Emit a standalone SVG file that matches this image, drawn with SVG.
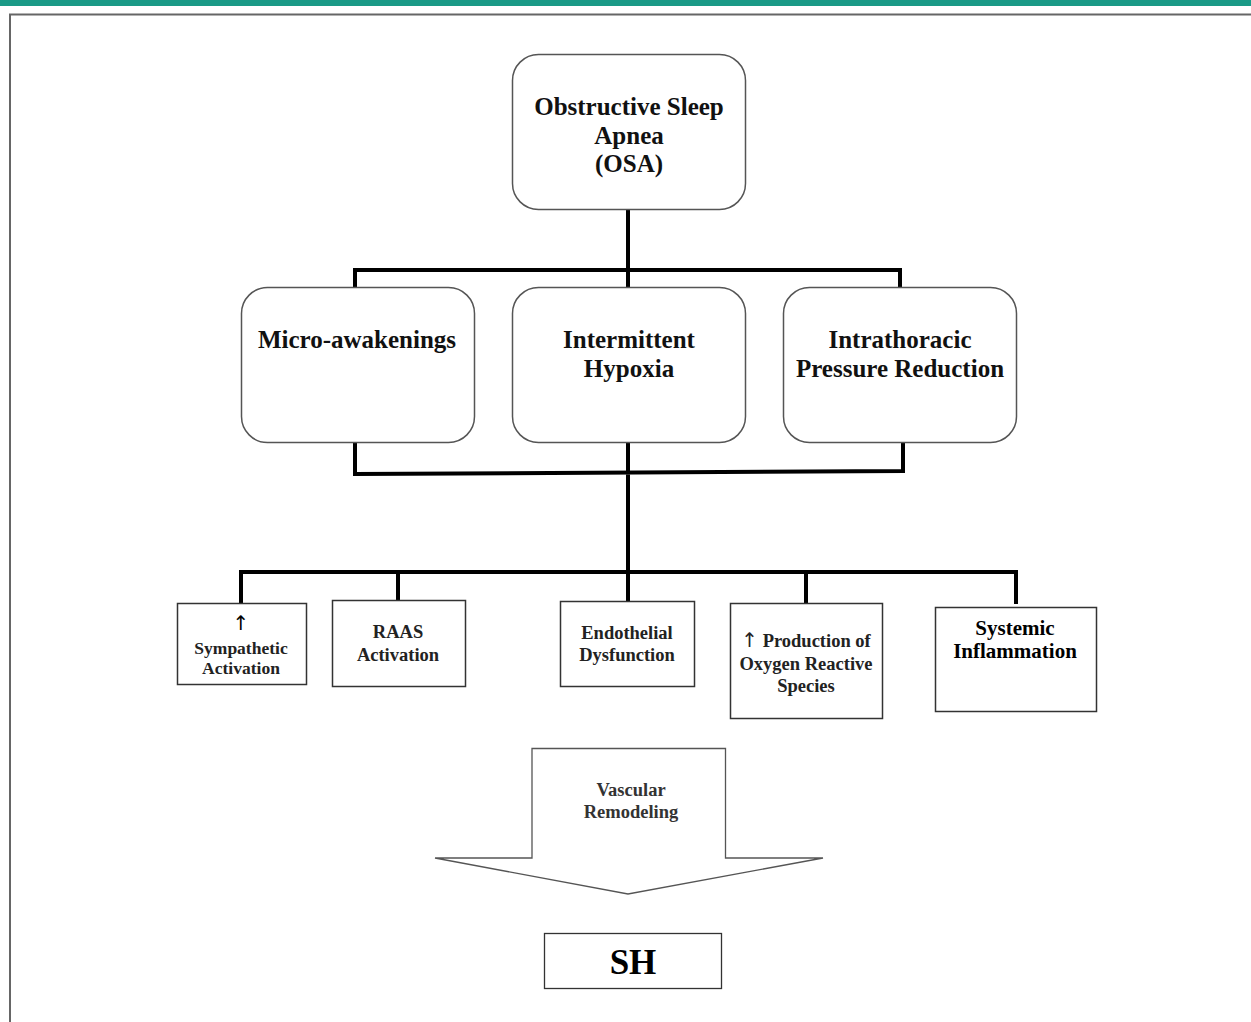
<svg xmlns="http://www.w3.org/2000/svg" width="1251" height="1022" viewBox="0 0 1251 1022">
<style>
.rbox{fill:#fff;stroke:#555;stroke-width:1.5}
.sbox{fill:#fff;stroke:#333;stroke-width:1.5}
.conn{fill:none;stroke:#000;stroke-width:4;stroke-linecap:square}
text{font-family:"Liberation Serif","Times New Roman",serif;font-weight:bold;text-anchor:middle}
.big{font-size:25px;fill:#111}
.sm{font-size:18.5px;fill:#222}
.arr{font-family:"DejaVu Sans",sans-serif;font-weight:normal}
</style>
<rect x="0" y="0" width="1251" height="6" fill="#1a9a87"/>
<path d="M10 1022 V14.5 H1251" fill="none" stroke="#666" stroke-width="2"/>
<g id="connectors">
<path class="conn" d="M628 209 V270 M355 287 V270 H900 V287 M628 270 V287"/>
<path class="conn" d="M355 442 V474 L903 471 V442 M628 442 V572"/>
<path class="conn" d="M241 603 V572 H1016 V602 M398 572 V600 M628 572 V601 M806 572 V602"/>
</g>
<g id="osa">
<rect class="rbox" x="512.5" y="54.5" width="233" height="155" rx="26"/>
<text class="big" x="629" y="115">Obstructive Sleep</text>
<text class="big" x="629" y="144">Apnea</text>
<text class="big" x="629" y="172">(OSA)</text>
</g>
<g id="micro">
<rect class="rbox" x="241.5" y="287.5" width="233" height="155" rx="26"/>
<text class="big" x="357" y="348">Micro-awakenings</text>
</g>
<g id="hypoxia">
<rect class="rbox" x="512.5" y="287.5" width="233" height="155" rx="26"/>
<text class="big" x="629" y="348">Intermittent</text>
<text class="big" x="629" y="377">Hypoxia</text>
</g>
<g id="intrathoracic">
<rect class="rbox" x="783.5" y="287.5" width="233" height="155" rx="26"/>
<text class="big" x="900" y="348">Intrathoracic</text>
<text class="big" x="900" y="377">Pressure Reduction</text>
</g>
<g id="sympathetic">
<rect class="sbox" x="177.5" y="603.5" width="129" height="81"/>
<text class="arr" x="241" y="630" style="font-size:20px;fill:#000">↑</text>
<text x="241" y="654" style="font-size:17.5px;fill:#222">Sympathetic</text>
<text x="241" y="674" style="font-size:17.5px;fill:#222">Activation</text>
</g>
<g id="raas">
<rect class="sbox" x="332.5" y="600.5" width="133" height="86"/>
<text class="sm" x="398" y="638">RAAS</text>
<text class="sm" x="398" y="661">Activation</text>
</g>
<g id="endothelial">
<rect class="sbox" x="560.5" y="601.5" width="134" height="85"/>
<text class="sm" x="627" y="639">Endothelial</text>
<text class="sm" x="627" y="661">Dysfunction</text>
</g>
<g id="ros">
<rect class="sbox" x="730.5" y="603.5" width="152" height="115"/>
<text class="sm" x="806" y="647"><tspan class="arr" style="font-size:20px">↑</tspan> Production of</text>
<text class="sm" x="806" y="670">Oxygen Reactive</text>
<text class="sm" x="806" y="692">Species</text>
</g>
<g id="inflammation">
<rect class="sbox" x="935.5" y="607.5" width="161" height="104"/>
<text x="1015" y="635" style="font-size:21px;fill:#000">Systemic</text>
<text x="1015" y="658" style="font-size:21px;fill:#000">Inflammation</text>
</g>
<g id="remodeling">
<polygon points="532,748.5 725.5,748.5 725.5,858 823,858 628,894 435,858 532,858" fill="#fff" stroke="#555" stroke-width="1.3"/>
<text class="sm" x="631" y="796" style="fill:#333">Vascular</text>
<text class="sm" x="631" y="818" style="fill:#333">Remodeling</text>
</g>
<g id="sh">
<rect x="544.5" y="933.5" width="177" height="55" fill="#fff" stroke="#333" stroke-width="1.3"/>
<text x="633" y="974" style="font-size:35px;fill:#000">SH</text>
</g>
</svg>
